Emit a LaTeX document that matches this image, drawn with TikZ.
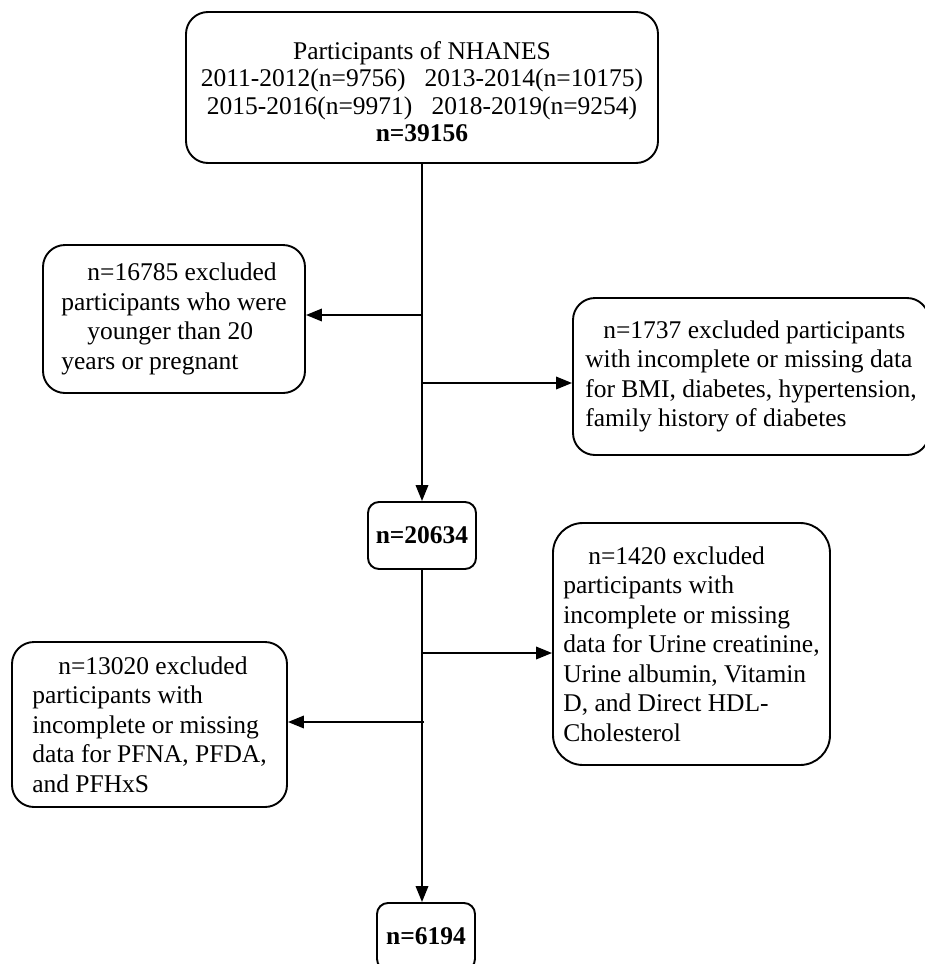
\documentclass[tikz,border=0pt]{standalone}
\usepackage{fontspec}
\setmainfont{Liberation Serif}
\usepackage{tikz}
\usetikzlibrary{arrows.meta, positioning}

\begin{document}
\begin{tikzpicture}[x=1pt, y=-1pt, >={Triangle[length=16pt,width=12.5pt]},
    box/.style={draw, line width=1.9pt, rounded corners=22pt, align=left,
        font=\fontsize{25.5}{29.5}\selectfont, inner sep=0pt},
    nbox/.style={draw, line width=1.9pt, rounded corners=11pt,
        font=\fontsize{25.5}{29.5}\selectfont\bfseries, inner sep=0pt},
    flow/.style={->, line width=1.9pt}]
    \useasboundingbox (0,0) rectangle (925,964);
    \clip (0,0) rectangle (925,964);
    % main column
    \node[box, align=center, minimum width=472pt, minimum height=151pt,
        font=\fontsize{25.5}{27.5}\selectfont] (start) at (422,87.5)
        {\rule{0pt}{26pt}Participants of NHANES\\
         2011-2012(n=9756)\ \ \ 2013-2014(n=10175)\\
         2015-2016(n=9971)\ \ \ 2018-2019(n=9254)\\
         \textbf{n=39156}};
    \node[nbox, minimum width=108pt, minimum height=67pt] (mid) at (422,535.5) {n=20634};
    \node[nbox, minimum width=98pt, minimum height=67pt] (final) at (426,936.5) {n=6194};
    % excluded
    \node[box, minimum width=262pt, minimum height=148pt] (excla) at (174,319)
        {\hspace*{26pt}n=16785 excluded\\
         participants who were\\
         \hspace*{26pt}younger than 20\\
         years or pregnant};
    \node[box, minimum width=356pt, minimum height=157pt] (exclb) at (751,376.5)
        {\hspace*{18pt}n=1737 excluded participants\\
         with incomplete or missing data\\
         for BMI, diabetes, hypertension,\\
         family history of diabetes};
    \node[box, rounded corners=30pt, minimum width=277pt, minimum height=242pt] (exclc) at (691.5,644)
        {\hspace*{25pt}n=1420 excluded\\
         participants with\\
         incomplete or missing\\
         data for Urine creatinine,\\
         Urine albumin, Vitamin\\
         D, and Direct HDL-\\
         Cholesterol};
    \node[box, minimum width=275pt, minimum height=165pt] (excld) at (149.5,724.5)
        {\hspace*{26pt}n=13020 excluded\\
         participants with\\
         incomplete or missing\\
         data for PFNA, PFDA,\\
         and PFHxS};
    % connectors
    \coordinate (sa) at (422,315);
    \coordinate (sb) at (422,383);
    \coordinate (sc) at (422,653);
    \coordinate (sd) at (424,722);
    \draw[flow] (start) -- (mid);
    \draw[flow] (sa) -- (sa -| excla.east);
    \draw[flow] (sb) -- (sb -| exclb.west);
    \draw[flow] (mid.south) -- (mid.south |- final.north);
    \draw[flow] (sc) -- (sc -| exclc.west);
    \draw[flow] (sd) -- (sd -| excld.east);
\end{tikzpicture}
\end{document}
